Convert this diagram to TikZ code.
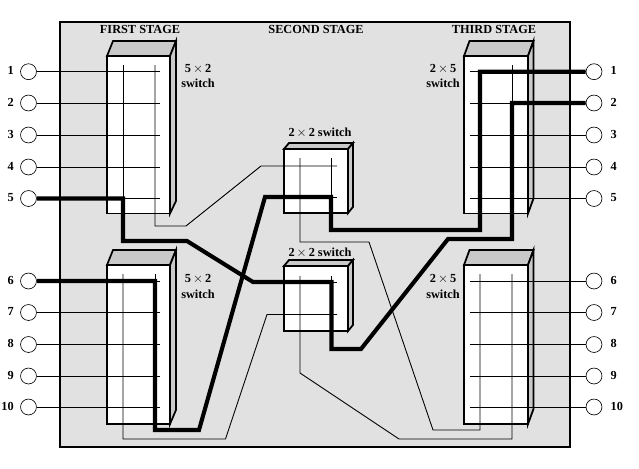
\documentclass[tikz,border=0pt]{standalone}
\usepackage{fontspec}
\setmainfont{Liberation Serif}
\usetikzlibrary{calc,positioning}
\definecolor{PanelGray}{HTML}{E1E1E1}
\definecolor{FaceGray}{HTML}{C9C9C9}

\begin{document}
\begin{tikzpicture}[x=0.03cm,y=-0.03cm,font=\fontsize{10.5}{11}\selectfont\bfseries,
      panel/.style={draw=black,fill=PanelGray,line width=1.5pt},
      face/.style={draw=black,fill=FaceGray,line width=1.5pt,line join=miter},
      front/.style={draw=black,fill=white,line width=1.5pt,inner sep=0pt},
      port/.style={circle,draw=black,fill=white,line width=0.55pt,minimum size=13.6pt,inner sep=0pt},
      thin wire/.style={line width=0.75pt},
      thick wire/.style={line width=3.5pt,line join=miter},
      caption/.style={align=center,inner sep=0pt,text=black}]
    \useasboundingbox (0,0) rectangle (639,468);
    \draw[panel] (60,22) rectangle (570,447);

    % switches: name/left/top/right/bottom/dx/top depth/bottom depth
    \foreach \name/\xa/\ya/\xb/\yb/\dx/\dt/\db in {%
        swA/107/56/170/213.5/6/15/12.5,swB/107/265/170/424/6/15/14,
        swC/284/149/348/213/5/6/6,swD/284/266/348/331/5/6/6,
        swE/464/56/528/213.5/5.5/15/15,swF/464/265/528/424/5.5/15/15}{%
      \draw[face] (\xa,\ya) -- ({\xa+\dx},{\ya-\dt}) -- ({\xb+\dx},{\ya-\dt}) -- (\xb,\ya) -- cycle;
      \draw[face] (\xb,\ya) -- ({\xb+\dx},{\ya-\dt}) -- ({\xb+\dx},{\yb-\db}) -- (\xb,\yb) -- cycle;
      \node[front,minimum width={(\xb-\xa)*0.03cm},minimum height={(\yb-\ya)*0.03cm}]
        (\name) at ({(\xa+\xb)/2},{(\ya+\yb)/2}) {};
    }

    \node[caption] (stageA) at (140,29) {FIRST STAGE};
    \node[caption] (stageB) at (316,29) {SECOND STAGE};
    \node[caption] (stageC) at (494,29) {THIRD STAGE};
    \node[caption] (capA) at (198,76) {5\,$\times$\,2\\[2pt]switch};
    \node[caption] (capB) at (198,286.5) {5\,$\times$\,2\\[2pt]switch};
    \node[caption] (capC) at (443,76) {2\,$\times$\,5\\[2pt]switch};
    \node[caption] (capD) at (443,286.5) {2\,$\times$\,5\\[2pt]switch};
    \node[caption] (capE) at (320,133) {2\,$\times$\,2 switch};
    \node[caption] (capF) at (320,253) {2\,$\times$\,2 switch};

    \foreach \i/\y in {1/71.7,2/103,3/135,4/167,5/198.5,6/281,7/312.5,8/344.5,9/376,10/407}{%
      \node[port] (in\i) at (28.5,\y) {};
      \node[port] (out\i) at (594,\y) {};
      \node[caption,anchor=east] (inlabel\i) at (14,{\y-1}) {\i};
      \node[caption,anchor=west] (outlabel\i) at (610.5,{\y-1}) {\i};
      \coordinate (instub\i) at (160,\y);
      \coordinate (outstub\i) at (470,\y);
      \draw[thin wire] (in\i) -- (instub\i);
      \draw[thin wire] (out\i) -- (outstub\i);
    }

    % unused links
    \draw[thin wire] (123,65) -- (123,198);
    \draw[thin wire] (155,65) -- (155,226) -- (186,226) -- (261,166) -- (337,166);
    \draw[thin wire] (123,274) -- (123,439) -- (225.5,439) -- (267,314.5) -- (337,314.5);
    \draw[thin wire] (155,274) -- (155,281);
    \draw[thin wire] (300,158) -- (300,242) -- (369,242) -- (433,430) -- (480,430) -- (480,274);
    \draw[thin wire] (331,158) -- (331,197);
    \draw[thin wire] (300,197) -- (337,197);
    \draw[thin wire] (300,276) -- (300,373) -- (399,439) -- (512,439) -- (512,274);
    \draw[thin wire] (331,276) -- (331,282) -- (337,282);
    \draw[thin wire] (512,65) -- (512,103);

    % established paths
    \draw[thick wire] (in5) -- (123,198.5) -- (123,241) -- (187,241) -- (253,282)
      -- (331.5,282) -- (331.5,349) -- (361,349) -- (448,239) -- (512,239) -- (512,103) -- (out2);
    \draw[thick wire] (in6) -- (155,281) -- (155,430) -- (199,430) -- (265,197)
      -- (331,197) -- (331,230) -- (480,230) -- (480,71.7) -- (out1);
  \end{tikzpicture}
\end{document}
